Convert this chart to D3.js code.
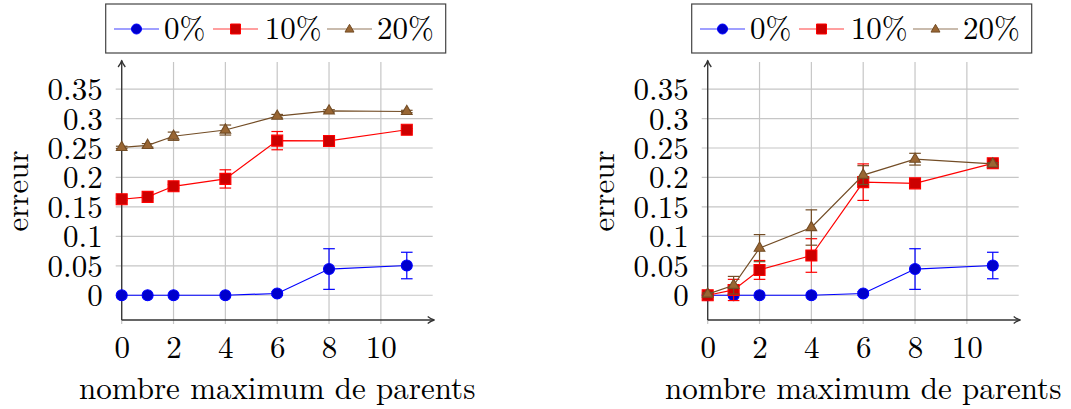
<!DOCTYPE html>
<html><head><meta charset="utf-8">
<script src="https://cdn.jsdelivr.net/npm/d3@7"></script>
<style>
body{margin:0;background:#fff}
svg{display:block}
</style>
</head><body>
<svg id="chart" width="1071" height="409"></svg>
<script>
// ---------- data ----------
const xValues = [0, 1, 2, 4, 6, 8, 11];
const seriesLabels = ["0%", "10%", "20%"];
const xTicks = [0, 2, 4, 6, 8, 10];
const yTicks = [0, 0.05, 0.1, 0.15, 0.2, 0.25, 0.3, 0.35];
const yTickLabels = ["0", "0.05", "0.1", "0.15", "0.2", "0.25", "0.3", "0.35"];
const xLabel = "nombre maximum de parents";
const yLabel = "erreur";

// left panel
const left0 = [0, 0, 0, 0, 0.003, 0.0445, 0.0505];
const left0Err = [0, 0, 0, 0, 0.003, 0.0345, 0.0225];
const left10 = [0.163, 0.167, 0.185, 0.1975, 0.2625, 0.262, 0.281];
const left10Err = [0.002, 0.002, 0.003, 0.0155, 0.0155, 0.003, 0.002];
const left20 = [0.251, 0.2545, 0.270, 0.2805, 0.304, 0.313, 0.312];
const left20Err = [0.002, 0.003, 0.007, 0.0085, 0.003, 0.002, 0.002];

// right panel
const right0 = [0, 0, 0, 0, 0.003, 0.0445, 0.0505];
const right0Err = [0, 0, 0, 0, 0.003, 0.0345, 0.0225];
const right10 = [0, 0.009, 0.043, 0.0675, 0.192, 0.190, 0.224];
const right10Err = [0.002, 0.018, 0.016, 0.0285, 0.031, 0.003, 0.002];
const right20 = [0.002, 0.017, 0.080, 0.115, 0.204, 0.231, 0.223];
const right20Err = [0.002, 0.015, 0.023, 0.030, 0.016, 0.010, 0.002];

// ---------- styles ----------
const lineColors = ["#0000ff", "#ff0000", "#734d26"];
const fillColors = ["#0000cc", "#cc0000", "#996633"];
const markerTypes = ["circle", "square", "triangle"];
const FONTFAM = '"Latin Modern Roman"';
const FONT = "31px";

const svg = d3.select("#chart");

function markerPath(type, s) {
  if (type === "circle") { const p = d3.path(); p.arc(0, 0, s, 0, 2 * Math.PI); p.closePath(); return p.toString(); }
  if (type === "square") return `M${-s},${-s}H${s}V${s}H${-s}Z`;
  const r = s * 1.12;
  return `M0,${-r}L${r * 0.866},${r / 2}L${-r * 0.866},${r / 2}Z`;
}

function styleText(sel) {
  return sel.style("font-family", FONTFAM).style("font-size", FONT).attr("fill", "#000");
}

function drawPanel(plotLeft, series, errs) {
  const g = svg.append("g");
  const x = d3.scaleLinear().domain([0, 12]).range([plotLeft, plotLeft + 311]);
  const y = d3.scaleLinear().domain([-0.042, 0.396]).range([320, 62]);
  const x0 = x(0), x1 = x(12), yb = y(-0.042), yt = y(0.396);

  // grid
  g.append("g").selectAll("line").data(yTicks).join("line")
    .attr("x1", x0 - 6).attr("x2", x1)
    .attr("y1", d => y(d)).attr("y2", d => y(d))
    .attr("stroke", "#c6c6c6").attr("stroke-width", 1.2);
  g.append("g").selectAll("line").data(xTicks).join("line")
    .attr("x1", d => x(d)).attr("x2", d => x(d))
    .attr("y1", yt).attr("y2", yb + 4)
    .attr("stroke", "#c6c6c6").attr("stroke-width", 1.2);

  // tick labels via d3 axes
  const ay = g.append("g").attr("transform", `translate(${x0},0)`)
    .call(d3.axisLeft(y).tickValues(yTicks).tickFormat((d, i) => yTickLabels[i]).tickSize(0).tickPadding(19));
  ay.select(".domain").remove();
  styleText(ay.selectAll("text")).attr("dy", "0.34em");

  const ax = g.append("g").attr("transform", `translate(0,${yb})`)
    .call(d3.axisBottom(x).tickValues(xTicks).tickFormat(d3.format("d")).tickSize(0).tickPadding(0));
  ax.select(".domain").remove();
  styleText(ax.selectAll("text")).attr("y", 37.5).attr("dy", null);

  // axis lines with arrows
  const axc = "#333";
  g.append("line").attr("x1", x0).attr("x2", x0).attr("y1", yb).attr("y2", yt - 1)
    .attr("stroke", axc).attr("stroke-width", 1.3);
  g.append("line").attr("x1", x0).attr("x2", x1).attr("y1", yb).attr("y2", yb)
    .attr("stroke", axc).attr("stroke-width", 1.3);
  g.append("path").attr("d", `M${x0 - 3.6},${yt + 5} Q${x0 - 0.8},${yt + 1.5} ${x0},${yt - 1.5} Q${x0 + 0.8},${yt + 1.5} ${x0 + 3.6},${yt + 5}`)
    .attr("fill", "none").attr("stroke", axc).attr("stroke-width", 1.3).attr("stroke-linejoin", "round");
  g.append("path").attr("d", `M${x1 - 5},${yb - 3.6} Q${x1 - 1.5},${yb - 0.8} ${x1 + 1.5},${yb} Q${x1 - 1.5},${yb + 0.8} ${x1 - 5},${yb + 3.6}`)
    .attr("fill", "none").attr("stroke", axc).attr("stroke-width", 1.3).attr("stroke-linejoin", "round");

  // series
  const line = d3.line().x((d, i) => x(xValues[i])).y(d => y(d));
  series.forEach((vals, si) => {
    const sg = g.append("g");
    sg.append("path").attr("d", line(vals)).attr("fill", "none")
      .attr("stroke", lineColors[si]).attr("stroke-width", 1.2);
    const eb = sg.append("g").attr("stroke", lineColors[si]).attr("stroke-width", 1.2);
    vals.forEach((v, i) => {
      const e = errs[si][i];
      if (!e) return;
      const cx = x(xValues[i]);
      eb.append("line").attr("x1", cx).attr("x2", cx).attr("y1", y(v - e)).attr("y2", y(v + e));
      [v - e, v + e].forEach(w => eb.append("line").attr("x1", cx - 5.8).attr("x2", cx + 5.8).attr("y1", y(w)).attr("y2", y(w)));
    });
    sg.append("g").selectAll("path").data(vals).join("path")
      .attr("d", markerPath(markerTypes[si], 5.5))
      .attr("transform", (d, i) => `translate(${x(xValues[i])},${y(d)})`)
      .attr("fill", fillColors[si]).attr("stroke", lineColors[si]).attr("stroke-width", 1.1);
  });

  // axis titles
  styleText(g.append("text").attr("x", (x0 + x1) / 2).attr("y", 398.5).attr("text-anchor", "middle")).text(xLabel);
  styleText(g.append("text").attr("transform", `translate(${x0 - 93.3},${(yt + yb) / 2}) rotate(-90)`)
    .attr("text-anchor", "middle")).text(yLabel);

  // legend
  const lx = x0 - 16, ly = 4;
  const lg = g.append("g");
  lg.append("rect").attr("x", lx).attr("y", ly).attr("width", 340).attr("height", 49)
    .attr("fill", "#fff").attr("stroke", "#444").attr("stroke-width", 1.2);
  const lineStarts = [8.3, 107.3, 221.3];
  const textStarts = [59.3, 160, 272.3];
  seriesLabels.forEach((lab, si) => {
    const sx = lx + lineStarts[si];
    lg.append("line").attr("x1", sx).attr("x2", sx + 45).attr("y1", ly + 25).attr("y2", ly + 25)
      .attr("stroke", lineColors[si]).attr("stroke-width", 1.2).attr("opacity", 0.75);
    lg.append("path").attr("d", markerPath(markerTypes[si], si === 2 ? 4.6 : 5))
      .attr("transform", `translate(${sx + 22.5},${ly + 25 + (si === 2 ? 0.5 : 0)})`)
      .attr("fill", fillColors[si]).attr("stroke", lineColors[si]).attr("stroke-width", 1);
    styleText(lg.append("text").attr("x", lx + textStarts[si] - 1).attr("y", ly + 34.5)).text(lab);
  });
}

drawPanel(121.7, [left0, left10, left20], [left0Err, left10Err, left20Err]);
drawPanel(707.7, [right0, right10, right20], [right0Err, right10Err, right20Err]);
</script>
</body></html>
